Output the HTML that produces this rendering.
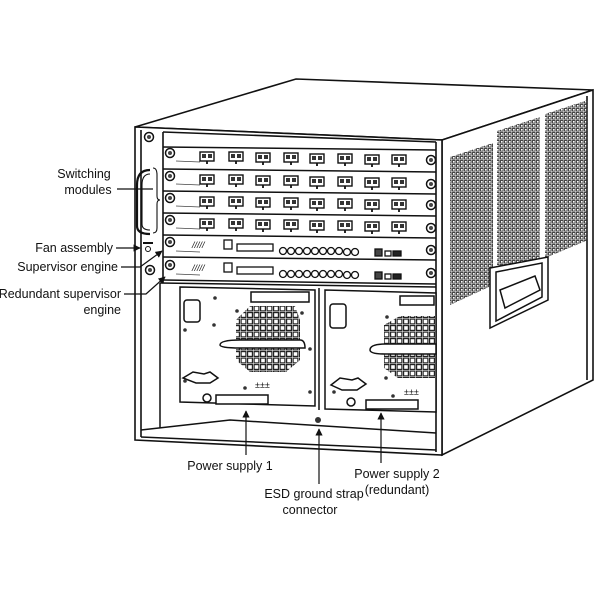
<!DOCTYPE html>
<html><head><style>
html,body{margin:0;padding:0;background:#fff;}
svg{display:block;font-family:"Liberation Sans",Arial,sans-serif;}
</style></head><body>
<svg width="600" height="600" viewBox="0 0 600 600" xmlns="http://www.w3.org/2000/svg">
<defs>
<pattern id="vent" width="4" height="4" patternUnits="userSpaceOnUse">
<rect x="0.5" y="0.5" width="2.6" height="2.6" fill="none" stroke="#333" stroke-width="0.9"/>
</pattern>
<pattern id="grill" width="6.5" height="6.5" patternUnits="userSpaceOnUse">
<rect x="0.6" y="0.6" width="4.8" height="4.8" fill="none" stroke="#222" stroke-width="1.2"/>
</pattern>
<g id="port"><rect x="0" y="0" width="14" height="9" fill="#fff" stroke="#111" stroke-width="1.4"/><rect x="2" y="2" width="4" height="4" fill="#333"/><rect x="8" y="2" width="4" height="4" fill="#333"/><path d="M7 9 l0 3" stroke="#111" stroke-width="1.8"/></g>
<g id="screw"><circle r="4.5" fill="#fff" stroke="#111" stroke-width="1.5"/><circle r="2" fill="#444"/></g>
<marker id="ah" viewBox="0 0 10 10" refX="9" refY="5" markerWidth="6" markerHeight="6" orient="auto"><path d="M0 0 L10 5 L0 10 z" fill="#111"/></marker>
</defs>
<g stroke="#111" fill="none" stroke-width="1.6">
<path d="M135 127 L296 79 L593 90 L442 140 Z" fill="#fff"/>
<path d="M442 140 L593 90 L593 380 L442 455 Z" fill="#fff"/>
<line x1="587" y1="96" x2="587" y2="380"/>
<path d="M135 127 L442 140 L442 455 L135 440 Z" fill="#fff"/>
<line x1="141" y1="130" x2="141" y2="437"/>
<line x1="436" y1="142" x2="436" y2="452"/>
<line x1="163" y1="132" x2="163" y2="283"/>
<line x1="163" y1="132" x2="436" y2="142"/>
</g>
<path d="M450 157 L493 143 L493 285 L450 305 Z" fill="url(#vent)"/>
<path d="M497 131 L540 117 L540 262 L497 282 Z" fill="url(#vent)"/>
<path d="M545 114 L588 100 L588 240 L545 258 Z" fill="url(#vent)"/>
<g stroke="#111" fill="#fff" stroke-width="1.5">
<path d="M490 268 L548 257 L548 300 L490 328 Z"/>
<path d="M496 272 L542 263 L542 297 L496 321 Z"/>
<path d="M500 290 L535 276 L540 290 L505 308 Z" fill="none"/>
</g>
<g stroke="#111" stroke-width="1.5" fill="none">
<line x1="163" y1="147" x2="436" y2="150"/>
<line x1="163" y1="169" x2="436" y2="172"/>
<line x1="163" y1="191" x2="436" y2="194"/>
<line x1="163" y1="213" x2="436" y2="216"/>
<line x1="163" y1="235" x2="436" y2="238"/>
<line x1="163" y1="257" x2="436" y2="260"/>
<line x1="163" y1="280" x2="436" y2="284"/>
<line x1="160" y1="283" x2="436" y2="287"/>
</g>
<g stroke="#444" stroke-width="0.8">
<line x1="176" y1="161" x2="200" y2="162"/><line x1="176" y1="184" x2="200" y2="185"/><line x1="176" y1="206" x2="200" y2="207"/><line x1="176" y1="228" x2="200" y2="229"/><line x1="176" y1="251" x2="200" y2="252"/><line x1="176" y1="274" x2="200" y2="275"/>
</g>
<g>
<use href="#screw" x="170" y="153"/><use href="#screw" x="170" y="176"/><use href="#screw" x="170" y="198"/><use href="#screw" x="170" y="220"/><use href="#screw" x="170" y="242"/><use href="#screw" x="170" y="265"/>
<use href="#screw" x="431" y="160"/><use href="#screw" x="431" y="184"/><use href="#screw" x="431" y="205"/><use href="#screw" x="431" y="228"/><use href="#screw" x="431" y="250"/><use href="#screw" x="431" y="273"/>
<use href="#screw" x="149" y="137"/><use href="#screw" x="150" y="270"/>
</g>
<g>
<g><use href="#port" x="200" y="152"/><use href="#port" x="229" y="152"/><use href="#port" x="256" y="153"/><use href="#port" x="284" y="153"/><use href="#port" x="310" y="154"/><use href="#port" x="338" y="154"/><use href="#port" x="365" y="155"/><use href="#port" x="392" y="155"/></g>
<g transform="translate(0,23)"><use href="#port" x="200" y="152"/><use href="#port" x="229" y="152"/><use href="#port" x="256" y="153"/><use href="#port" x="284" y="153"/><use href="#port" x="310" y="154"/><use href="#port" x="338" y="154"/><use href="#port" x="365" y="155"/><use href="#port" x="392" y="155"/></g>
<g transform="translate(0,45)"><use href="#port" x="200" y="152"/><use href="#port" x="229" y="152"/><use href="#port" x="256" y="153"/><use href="#port" x="284" y="153"/><use href="#port" x="310" y="154"/><use href="#port" x="338" y="154"/><use href="#port" x="365" y="155"/><use href="#port" x="392" y="155"/></g>
<g transform="translate(0,67)"><use href="#port" x="200" y="152"/><use href="#port" x="229" y="152"/><use href="#port" x="256" y="153"/><use href="#port" x="284" y="153"/><use href="#port" x="310" y="154"/><use href="#port" x="338" y="154"/><use href="#port" x="365" y="155"/><use href="#port" x="392" y="155"/></g>
</g>
<g stroke="#111" stroke-width="1.3" fill="#fff">
<g>
<text x="192" y="248" font-size="9" font-style="italic" fill="#111" stroke="none">/////</text>
<rect x="224" y="240" width="8" height="9"/>
<rect x="237" y="244" width="36" height="7"/>
<g><circle cx="283" cy="251" r="3.5"/><circle cx="291" cy="251" r="3.5"/><circle cx="299" cy="251" r="3.5"/><circle cx="307" cy="251" r="3.5"/><circle cx="315" cy="251" r="3.5"/><circle cx="323" cy="251" r="3.5"/><circle cx="331" cy="251" r="3.5"/><circle cx="339" cy="251" r="3.5"/><circle cx="347" cy="252" r="3.5"/><circle cx="355" cy="252" r="3.5"/></g>
<rect x="375" y="249" width="7" height="7" fill="#444"/><rect x="385" y="251" width="6" height="5"/><rect x="393" y="251" width="8" height="5" fill="#222"/>
</g>
<g transform="translate(0,23)">
<text x="192" y="248" font-size="9" font-style="italic" fill="#111" stroke="none">/////</text>
<rect x="224" y="240" width="8" height="9"/>
<rect x="237" y="244" width="36" height="7"/>
<g><circle cx="283" cy="251" r="3.5"/><circle cx="291" cy="251" r="3.5"/><circle cx="299" cy="251" r="3.5"/><circle cx="307" cy="251" r="3.5"/><circle cx="315" cy="251" r="3.5"/><circle cx="323" cy="251" r="3.5"/><circle cx="331" cy="251" r="3.5"/><circle cx="339" cy="251" r="3.5"/><circle cx="347" cy="252" r="3.5"/><circle cx="355" cy="252" r="3.5"/></g>
<rect x="375" y="249" width="7" height="7" fill="#444"/><rect x="385" y="251" width="6" height="5"/><rect x="393" y="251" width="8" height="5" fill="#222"/>
</g>
</g>
<path d="M150 170 Q137 170 137 185 L137 226 Q137 234 150 234" fill="none" stroke="#111" stroke-width="2.2"/>
<path d="M150 174 Q142 174 142 185 L142 224 Q142 230 150 230" fill="none" stroke="#111" stroke-width="1.1"/>
<path d="M153 168 Q157 168 157 175 L157 196 Q157 200 160 200 Q157 200 157 204 L157 228 Q157 233 153 233" fill="none" stroke="#111" stroke-width="1.1"/>
<line x1="143" y1="243" x2="153" y2="243" stroke="#111" stroke-width="2"/>
<circle cx="148" cy="249" r="2.5" fill="none" stroke="#111"/>
<g stroke="#111" stroke-width="1.5" fill="#fff">
<path d="M180 287 L315 290 L315 406 L180 402 Z"/>
<path d="M325 290 L436 293 L436 412 L325 409 Z"/>
<line x1="319" y1="288" x2="319" y2="410"/>
<line x1="160" y1="283" x2="160" y2="430"/>
<path d="M141 430 L230 420 L436 433"/>
<path d="M141 437 L436 450"/>
</g>
<path d="M236 320 L250 306 L295 306 L300 320 L300 360 L286 372 L250 372 L236 360 Z" fill="url(#grill)"/>
<path d="M384 325 L400 316 L436 316 L436 378 L398 378 L384 368 Z" fill="url(#grill)"/>
<g stroke="#111" stroke-width="1.5" fill="#fff">
<rect x="251" y="292" width="58" height="10"/>
<rect x="400" y="296" width="34" height="9"/>
<path d="M220 345 Q220 340 240 340 L300 340 Q305 340 305 348 L300 348 L240 348 Q220 348 220 345 Z"/>
<path d="M370 350 Q370 344 385 344 L436 344 L436 354 L385 354 Q370 354 370 350 Z"/>
<rect x="184" y="300" width="16" height="22" rx="3"/>
<rect x="330" y="304" width="16" height="24" rx="3"/>
<path d="M183 378 L193 372 L204 374 L210 372 L218 378 L210 383 L196 383 Z"/>
<path d="M331 385 L340 378 L352 380 L358 378 L366 384 L357 390 L342 390 Z"/>
<rect x="216" y="395" width="52" height="9"/>
<rect x="366" y="400" width="52" height="9"/>
<circle cx="207" cy="398" r="4"/>
<circle cx="351" cy="402" r="4"/>
</g>
<g fill="#333">
<circle cx="185" cy="330" r="1.8"/><circle cx="215" cy="298" r="1.8"/><circle cx="214" cy="325" r="1.8"/><circle cx="237" cy="311" r="1.8"/><circle cx="302" cy="313" r="1.8"/><circle cx="310" cy="349" r="1.8"/><circle cx="185" cy="381" r="1.8"/><circle cx="310" cy="392" r="1.8"/><circle cx="245" cy="388" r="1.8"/>
<circle cx="387" cy="317" r="1.8"/><circle cx="386" cy="378" r="1.8"/><circle cx="334" cy="392" r="1.8"/><circle cx="393" cy="396" r="1.8"/>
<circle cx="318" cy="420" r="3"/>
</g>
<text x="255" y="388" font-size="9" fill="#111">±±±</text>
<text x="404" y="395" font-size="9" fill="#111">±±±</text>
<g font-size="12.5" fill="#111">
<text x="84" y="178" text-anchor="middle">Switching</text>
<text x="88" y="194" text-anchor="middle">modules</text>
<text x="113" y="252" text-anchor="end">Fan assembly</text>
<text x="118" y="271" text-anchor="end">Supervisor engine</text>
<text x="121" y="298" text-anchor="end">Redundant supervisor</text>
<text x="121" y="314" text-anchor="end">engine</text>
<text x="230" y="470" text-anchor="middle">Power supply 1</text>
<text x="314" y="498" text-anchor="middle">ESD ground strap</text>
<text x="310" y="514" text-anchor="middle">connector</text>
<text x="397" y="478" text-anchor="middle">Power supply 2</text>
<text x="397" y="494" text-anchor="middle">(redundant)</text>
</g>
<g stroke="#111" stroke-width="1.2" fill="none">
<line x1="117" y1="189" x2="153" y2="189"/>
<line x1="116" y1="248" x2="140" y2="248" marker-end="url(#ah)"/>
<polyline points="121,267 140,267 162,251" marker-end="url(#ah)"/>
<polyline points="124,294 146,294 165,277" marker-end="url(#ah)"/>
<line x1="246" y1="455" x2="246" y2="411" marker-end="url(#ah)"/>
<line x1="319" y1="484" x2="319" y2="429" marker-end="url(#ah)"/>
<line x1="381" y1="463" x2="381" y2="413" marker-end="url(#ah)"/>
</g>
</svg>
</body></html>
